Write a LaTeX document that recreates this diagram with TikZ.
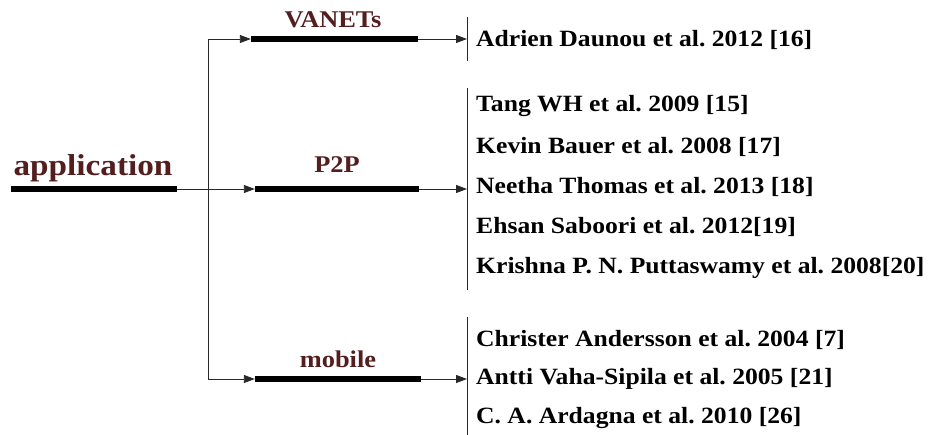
\documentclass[tikz,border=0pt]{standalone}
\usepackage{fontspec}
\setmainfont{Liberation Serif}
\newfontfamily\widefont[FakeStretch=1.1]{Liberation Serif}
\usetikzlibrary{arrows.meta}
\definecolor{heading}{RGB}{84,30,30}
\definecolor{wire}{RGB}{40,40,40}
\tikzset{
  bar/.style={fill=black, inner sep=0pt, minimum height=6pt},
  head/.style={text=heading, font=\widefont\bfseries\fontsize{24}{24}\selectfont, anchor=base, inner sep=0pt},
  ref/.style={font=\widefont\bfseries\fontsize{23.3}{23.3}\selectfont\frenchspacing, anchor=base west, inner sep=0pt},
  wireline/.style={draw=wire, line width=0.9pt},
  arr/.style={wireline, -{Triangle[length=11pt,width=8pt]}},
  sep/.style={draw=wire, line width=0.9pt}
}
\begin{document}
\begin{tikzpicture}[x=1pt,y=-1pt]
\useasboundingbox (0,0) rectangle (930,435);

% root
\node[text=heading, font=\widefont\bfseries\fontsize{30.2}{30.2}\selectfont, anchor=base, inner sep=0pt] (app) at (93,176) {application};
\node[bar, minimum width=166pt] (appbar) at (94,189) {};

% categories
\node[bar, minimum width=167pt] (vbar) at (334.5,39) {};
\node[head] (vanets) at (333,28) {VANETs};
\node[bar, minimum width=164pt] (pbar) at (337,189) {};
\node[head] (p2p) at (337,173) {P2P};
\node[bar, minimum width=166pt] (mbar) at (338,379) {};
\node[head] (mobile) at (338,368) {mobile};

% fork and separators
\coordinate (fork) at (208,189);
\coordinate (s1) at (467,39);
\coordinate (s2) at (467,189);
\coordinate (s3) at (467,379);
\draw[sep] (467,17) -- (467,61);
\draw[sep] (467,88) -- (467,290);
\draw[sep] (467,317) -- (467,435);

% connectors
\draw[arr] (appbar.east) -- (pbar.west);
\draw[arr] (fork) |- (vbar.west);
\draw[arr] (fork) |- (mbar.west);
\draw[arr] (vbar.east) -- (s1);
\draw[arr] (pbar.east) -- (s2);
\draw[arr] (mbar.east) -- (s3);

% references
\node[ref] (r16) at (476,47) {Adrien Daunou et al. 2012 [16]};
\node[ref] (r15) at (476,112) {Tang WH et al. 2009 [15]};
\node[ref] (r17) at (476,154) {Kevin Bauer et al. 2008 [17]};
\node[ref] (r18) at (476,194) {Neetha Thomas et al. 2013 [18]};
\node[ref] (r19) at (476,234) {Ehsan Saboori et al. 2012[19]};
\node[ref] (r20) at (476,274) {Krishna P. N. Puttaswamy et al. 2008[20]};
\node[ref] (r7) at (476,347) {Christer Andersson et al. 2004 [7]};
\node[ref] (r21) at (476,385) {Antti Vaha-Sipila et al. 2005 [21]};
\node[ref] (r26) at (476,424) {C. A. Ardagna et al. 2010 [26]};
\end{tikzpicture}
\end{document}
